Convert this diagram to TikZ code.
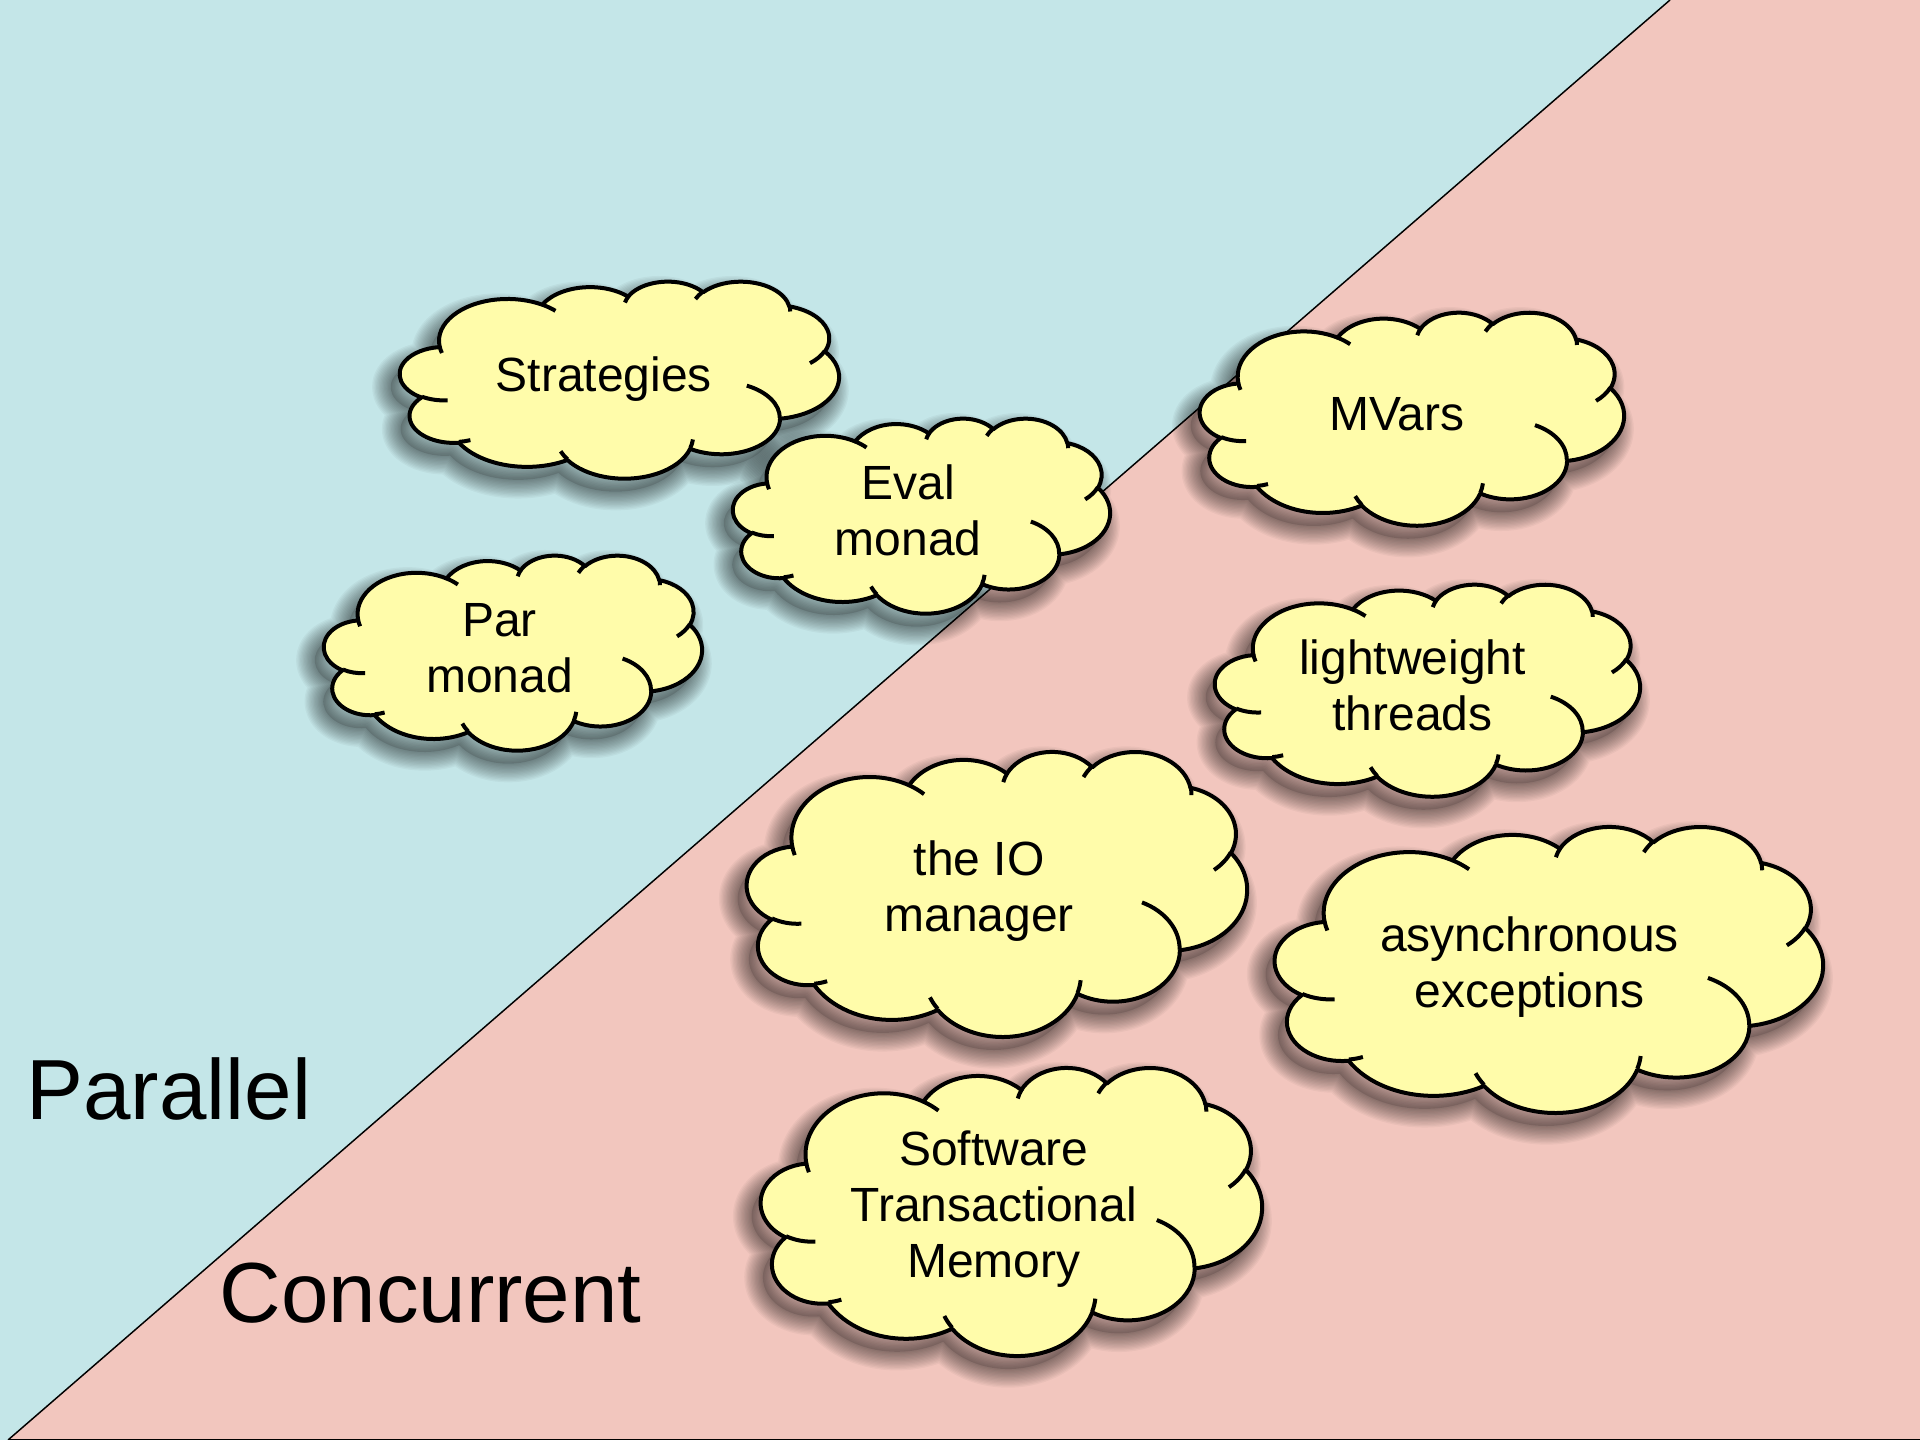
\documentclass[tikz,border=0pt]{standalone}
\usepackage{fontspec}
\setmainfont{Liberation Sans}
\definecolor{parblue}{RGB}{196,230,232}
\definecolor{conpink}{RGB}{242,198,190}
\definecolor{cloudyel}{RGB}{255,252,170}

% OOXML arcTo (visual angles, y down) -> TikZ arc with parametric angles
\newcommand\mkarc[5]{%
  \pgfmathsetmacro\tmpS{atan2((#2)*sin(#4),(#3)*cos(#4))}%
  \pgfmathsetmacro\tmpE{atan2((#2)*sin((#4)+(#5)),(#3)*cos((#4)+(#5)))}%
  \pgfmathsetmacro\tmpD{\tmpE-\tmpS}%
  \pgfmathsetmacro\tmpD{\tmpD-360*round((\tmpD-(#5))/360)}%
  \expandafter\xdef\csname #1\endcsname{arc[x radius=#2, y radius=#3, start angle=\tmpS, delta angle=\tmpD]}%
}
% outline
\mkarc{clA}{675.3}{919.0}{-190.4875}{123.7805}
\mkarc{clB}{533.3}{726.7}{-144.1024}{89.9452}
\mkarc{clC}{436.5}{594.5}{-145.8079}{99.7230}
\mkarc{clD}{485.7}{659.5}{-130.9861}{117.2417}
\mkarc{clE}{533.3}{727.3}{-78.7089}{109.0269}
\mkarc{clF}{677.5}{922.0}{-46.2673}{130.2690}
\mkarc{clG}{578.5}{786.7}{0.6250}{114.0333}
\mkarc{clH}{675.2}{921.5}{22.4516}{115.1726}
\mkarc{clI}{772.0}{1054.3}{66.2426}{75.7110}
\mkarc{clJ}{436.0}{591.8}{-274.9421}{146.7356}
\mkarc{clK}{434.5}{594.5}{-246.8285}{152.5189}
% inner ticks
\mkarc{ctA}{434.5}{594.5}{86.742}{26.4295}
\mkarc{ctB}{436.0}{591.8}{73.6105}{11.4475}
\mkarc{ctC}{675.2}{921.5}{137.6242}{14.0811}
\mkarc{ctD}{675.2}{921.5}{6.4533}{15.9984}
\mkarc{ctE}{578.5}{786.7}{-70.2924}{70.9174}
\mkarc{ctF}{533.3}{727.3}{30.318}{27.7515}
\mkarc{ctG}{485.7}{659.5}{-13.7443}{14.8589}
\mkarc{ctH}{485.7}{659.5}{-149.1815}{18.1954}
\mkarc{ctI}{436.5}{594.5}{-163.4943}{17.6864}
\mkarc{ctJ}{675.3}{919.0}{-66.7070}{12.3194}
\mkarc{ctK}{675.3}{919.0}{157.6544}{11.8582}

\newcommand\cloudpath{(390,1437) \clA \clB \clC \clD \clE \clF \clG \clH \clI \clJ \clK -- cycle}
\newcommand\tickpath{(469.3,2617.7) \ctA (692.8,3489.9) \ctB (1647.8,3909.0) \ctC
  (2882.7,3475.1) \ctD (3412.9,2295.4) \ctE (4179.8,1535.4) \ctF (3832.4,542.6) \ctG
  (2907.8,395.2) \ctH (2214.1,472.0) \ctI (1400.0,519.2) \ctJ (412.7,1578.9) \ctK}

\newcommand\ctxt[1]{\rule[-2.25pt]{0pt}{17.25pt}\smash{#1}}

% name, x, y, w, h (pixels, y down), text
\newcommand\drawcloud[6]{%
  \pgfmathsetmacro\cxs{#4/4320}\pgfmathsetmacro\cys{#5/4320}%
  \begin{scope}[shift={(#2-9,#3+13)}, xscale=\cxs, yscale=\cys]
    \fill[black, fill opacity=0.12] \cloudpath;
    \foreach \lw in {1,2,3,4,5,6,7,8,9,10,11,12,13,14}{
      \draw[black, draw opacity=0.035, line width=\lw pt, line join=round] \cloudpath;}
  \end{scope}
  \begin{scope}[shift={(#2,#3)}, xscale=\cxs, yscale=\cys]
    \filldraw[cloudshape] \cloudpath;
    \draw[cloudtick] \tickpath;
  \end{scope}
  \node[cloudtext] (#1) at ({#2+0.4645*#4},{#3+0.4768*#5}) {#6};
}

\begin{document}
\begin{tikzpicture}[x=0.375pt, y=-0.375pt,
  cloudshape/.style={fill=cloudyel, draw=black, line width=1.5pt, line join=round},
  cloudtick/.style={draw=black, line width=1.5pt},
  cloudtext/.style={font=\fontsize{18}{21}\selectfont, align=center, inner sep=0pt},
  biglabel/.style={font=\fontsize{32}{38}\selectfont, inner sep=0pt, anchor=base west},
  divider/.style={draw=black, line width=0.55pt}]
\useasboundingbox (0,0) rectangle (1920,1440);
\fill[parblue] (0,0) rectangle (1920,1440);
\fill[conpink] (8,1440) -- (1670,0) -- (1920,0) -- (1920,1440) -- cycle;
\draw[divider] (8,1440) -- (1670,0);
\draw[divider] (8,1439.3) -- (1920,1439.3);

\node[biglabel] (parallel) at (26,1119) {Parallel};
\node[biglabel] (concurrent) at (219,1322) {Concurrent};

\drawcloud{strat}{400}{281}{439}{197}{\ctxt{Strategies}}
\drawcloud{eval}{733}{418}{377}{195}{\ctxt{Eval}\\\ctxt{monad}}
\drawcloud{par}{324}{555}{378}{195}{\ctxt{Par}\\\ctxt{monad}}
\drawcloud{mvars}{1200}{312}{424}{213}{\ctxt{MVars}}
\drawcloud{threads}{1215}{584}{425}{212}{\ctxt{lightweight}\\\ctxt{threads}}
\drawcloud{io}{747}{751}{500}{285}{\ctxt{the IO}\\\ctxt{manager}}
\drawcloud{async}{1275}{826}{548}{286}{\ctxt{asynchronous}\\\ctxt{exceptions}}
\drawcloud{stm}{761}{1067}{501}{288}{\ctxt{Software}\\\ctxt{Transactional}\\\ctxt{Memory}}
\end{tikzpicture}
\end{document}
